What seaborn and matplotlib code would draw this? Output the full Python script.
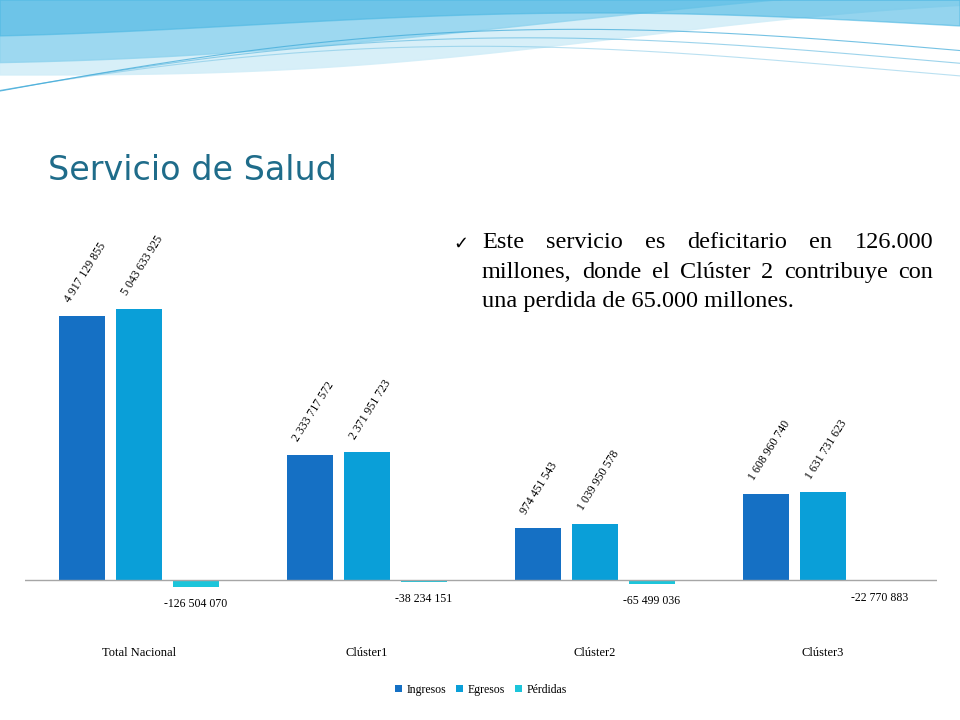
import numpy as np
import pandas as pd
import matplotlib
matplotlib.use("Agg")
import matplotlib.pyplot as plt
import seaborn as sns

categories = ["Total Nacional", "Clúster1", "Clúster2", "Clúster3"]
series_names = ["Ingresos", "Egresos", "Pérdidas"]
ingresos = [4917129855, 2333717572, 974451543, 1608960740]
egresos = [5043633925, 2371951723, 1039950578, 1631731623]
perdidas = [-126504070, -38234151, -65499036, -22770883]
colors = ["#1570C4", "#0A9FD8", "#1CC5DA"]

rows = []
for s, vals in zip(series_names, [ingresos, egresos, perdidas]):
    for c, v in zip(categories, vals):
        rows.append({"cat": c, "serie": s, "val": v})
df = pd.DataFrame(rows)

fig = plt.figure(figsize=(9.6, 7.2), dpi=100)
fig.patch.set_facecolor("white")

# decorative wave background at top
bg = fig.add_axes([0, 0, 1, 1], zorder=-1)
bg.set_xlim(0, 960); bg.set_ylim(720, 0); bg.axis("off")
x = np.linspace(0, 960, 400)
top1 = 75 - 0.06*x + 12*np.sin(x/200)
bg.fill_between(x, 0, top1, color="#D3EEF8", alpha=0.9)
top2 = 50 - 0.05*x + 15*np.sin(x/260 + 1.0)
bg.fill_between(x, 0, top2, color="#8FD3EE", alpha=0.8)
top3 = 25 + 12*np.sin(x/220 + 2.0)
bg.fill_between(x, 0, top3, color="#4DB8E3", alpha=0.6)
for k, a in enumerate([0.7, 0.5, 0.35]):
    bg.plot(x, 100 - 45*np.sin(x/330 + 0.2 + 0.15*k) - x*0.05 + 6*k, color="#3AA8D8", lw=0.8, alpha=a)

fig.text(0.05, 0.75, "Servicio de Salud", fontsize=24, color="#1F6C8A", family="DejaVu Sans")

lines = ["Este servicio es deficitario en 126.000",
         "millones, donde el Clúster 2 contribuye con",
         "una perdida de 65.000 millones."]
fig.text(0.472, 0.655, "✓", fontsize=13, family="DejaVu Sans", color="black")
fig.canvas.draw()
r = fig.canvas.get_renderer()
x0, x1 = 0.502, 0.972
fs = 17.5
for i, l in enumerate(lines):
    y = 0.655 - i * 0.0405
    words = l.split(" ")
    if i == len(lines) - 1:
        fig.text(x0, y, l, fontsize=fs, family="Liberation Serif")
        continue
    ts = [fig.text(0, y, w, fontsize=fs, family="Liberation Serif") for w in words]
    ws = [t.get_window_extent(r).width / fig.bbox.width for t in ts]
    gap = (x1 - x0 - sum(ws)) / (len(words) - 1)
    pos = x0
    for t, w in zip(ts, ws):
        t.set_x(pos)
        pos += w + gap

ax = fig.add_axes([0.026, 0.1646, 0.95, 0.5375])
sns.barplot(data=df, x="cat", y="val", hue="serie", palette=colors, width=0.75,
            gap=0.2, saturation=1, ax=ax, legend=True)
ax.set_ylim(-0.4e9, 6.8e9)
ax.set_xlim(-0.5, 3.5)
for sp in ax.spines.values():
    sp.set_visible(False)
ax.axhline(0, color="#A6A6A6", lw=1)
ax.set_yticks([])
ax.set_xlabel(""); ax.set_ylabel("")
ax.tick_params(axis="x", length=0, pad=33)
for t in ax.get_xticklabels():
    t.set_family("Liberation Serif"); t.set_fontsize(9)

def fmt(v):
    s = f"{abs(v):,}".replace(",", " ")
    return ("-" if v < 0 else "") + s

for cont in ax.containers:
    for bar in cont:
        v = bar.get_height()
        cx = bar.get_x() + bar.get_width()/2
        if v >= 0:
            ax.annotate(fmt(int(round(v))), (cx, v), xytext=(-7, 8), textcoords="offset points",
                        rotation=58, rotation_mode="anchor", ha="left", va="bottom",
                        fontsize=8.5, family="Liberation Serif")
        else:
            ax.annotate(fmt(int(round(v))), (cx, v), xytext=(0, -8), textcoords="offset points",
                        ha="center", va="top", fontsize=8.5, family="Liberation Serif")

leg = ax.legend(loc="upper center", bbox_to_anchor=(0.5, -0.185), ncol=3, frameon=False,
                prop={"family": "Liberation Serif", "size": 8.5}, handlelength=0.6,
                handleheight=0.6, columnspacing=0.8, handletextpad=0.4)

fig.savefig("out.png", dpi=100)
